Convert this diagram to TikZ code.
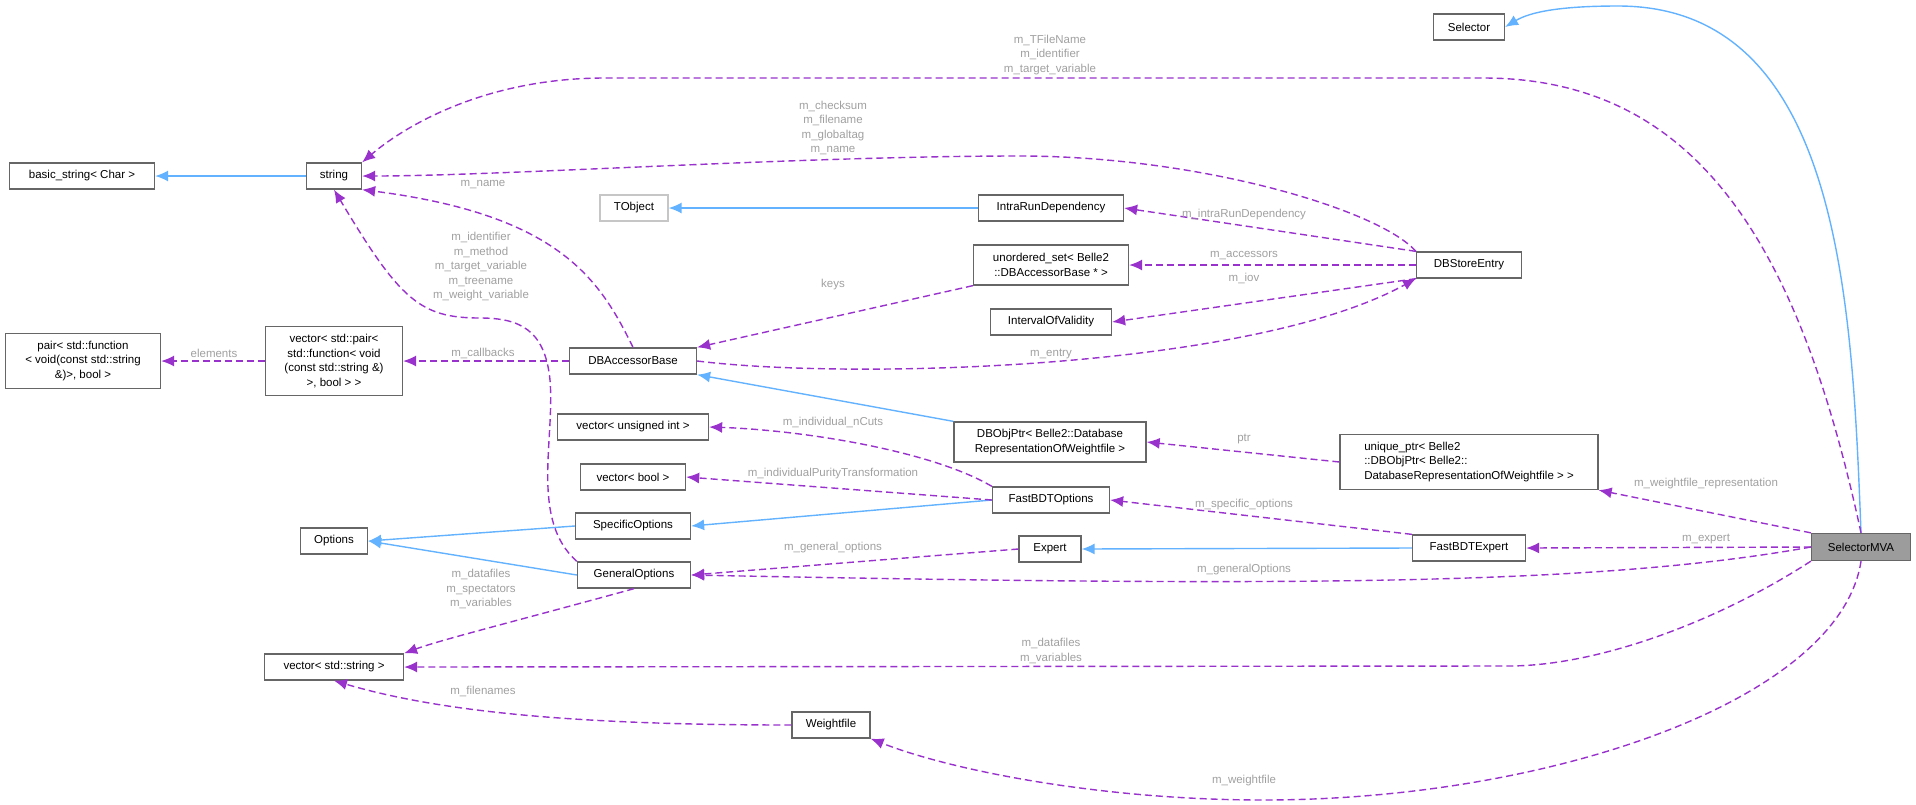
\documentclass[tikz,border=0pt]{standalone}
\usepackage{fontspec}
\setmainfont{Liberation Sans}
\usetikzlibrary{arrows.meta,positioning}
\definecolor{inhblue}{RGB}{99,178,255}
\definecolor{mempurple}{RGB}{153,50,204}
\definecolor{lblgray}{RGB}{160,160,160}
\definecolor{boxgray}{RGB}{102,102,102}
\tikzset{
  cls/.style={draw=boxgray,line width=1.3pt,align=center,inner sep=2pt,minimum height=26,font=\fontsize{11.5}{14.5}\selectfont},
  inh/.style={draw=inhblue,line width=1.4pt,-{Latex[length=13pt,width=11pt]}},
  mem/.style={draw=mempurple,line width=1.4pt,dash pattern=on 7pt off 4pt,-{Latex[length=13pt,width=11pt]}},
  lbl/.style={text=lblgray,align=center,inner sep=0pt,font=\fontsize{11.5}{14.5}\selectfont}
}
\begin{document}
\begin{tikzpicture}[x=1pt,y=-1pt]
\useasboundingbox (0,0) rectangle (1916,804);
% classes
\node[cls,minimum width=71] (sel) at (1469,27) {Selector};
\node[cls,minimum width=99,minimum height=27,fill=boxgray!65] (mva) at (1861,547) {SelectorMVA};
\node[cls,minimum width=145] (bstr) at (82,176) {basic\_string< Char >};
\node[cls,minimum width=55] (str) at (334,176) {string};
\node[cls,draw=lblgray!60,minimum width=68] (tobj) at (634,208) {TObject};
\node[cls,minimum width=145] (intra) at (1051,208) {IntraRunDependency};
\node[cls,minimum width=155,minimum height=40] (unord) at (1051,265) {unordered\_set< Belle2\\::DBAccessorBase * >};
\node[cls,minimum width=105] (dbs) at (1469,265) {DBStoreEntry};
\node[cls,minimum width=121] (iov) at (1051,322) {IntervalOfValidity};
\node[cls,minimum width=155,minimum height=55] (pair) at (83,361) {pair< std::function\\< void(const std::string\\ \&)>, bool >};
\node[cls,minimum width=137,minimum height=69] (vpair) at (334,361) {vector< std::pair<\\std::function< void\\(const std::string \&)\\>, bool > >};
\node[cls,minimum width=127] (dbacc) at (633,361) {DBAccessorBase};
\node[cls,minimum width=151] (vui) at (633,427) {vector< unsigned int >};
\node[cls,minimum width=192,minimum height=40] (dbobj) at (1050,442) {DBObjPtr< Belle2::Database\\RepresentationOfWeightfile >};
\node[cls,minimum width=258,minimum height=55,align=left] (uniq) at (1469,462) {unique\_ptr< Belle2\\::DBObjPtr< Belle2::\\DatabaseRepresentationOfWeightfile > >};
\node[cls,minimum width=105] (vbool) at (633,477) {vector< bool >};
\node[cls,minimum width=117] (fopt) at (1051,500) {FastBDTOptions};
\node[cls,minimum width=115] (sopt) at (633,526) {SpecificOptions};
\node[cls,minimum width=67] (opts) at (334,541) {Options};
\node[cls,minimum width=62] (expert) at (1050,549) {Expert};
\node[cls,minimum width=113] (fexp) at (1469,548) {FastBDTExpert};
\node[cls,minimum width=113] (gopt) at (634,575) {GeneralOptions};
\node[cls,minimum width=139] (vstr) at (334,667) {vector< std::string >};
\node[cls,minimum width=78] (wf) at (831,725) {Weightfile};
% inheritance
\draw[inh] (mva.north) .. controls (1852,300) and (1840,6) .. (1618,6) .. controls (1560,6) and (1530,12) .. (sel.east);
\draw[inh] (str.west) -- (bstr.east);
\draw[inh] (intra.west) -- (tobj.east);
\draw[inh] (dbobj.north west) -- (dbacc.south east);
\draw[inh] (fopt.west) -- (sopt.east);
\draw[inh] (sopt.west) -- (opts.east);
\draw[inh] (gopt.west) -- (opts.east);
\draw[inh] (fexp.west) -- (expert.east);
% members
\draw[mem] (mva.north) .. controls (1800,250) and (1700,78) .. (1483,78) -- (605,78) .. controls (480,78) and (400,130) .. (str.north east);
\draw[mem] (dbs.north west) .. controls (1380,210) and (1200,156) .. (1019,156) .. controls (800,156) and (500,176) .. (str.east);
\draw[mem] (dbacc.north) .. controls (600,280) and (560,215) .. (str.south east);
\draw[mem] (gopt.north west) .. controls (530,520) and (555,440) .. (550,380) .. controls (545,330) and (520,318) .. (480,318) .. controls (420,318) and (400,300) .. (str.south);
\draw[mem] (dbs.north west) -- (intra.east);
\draw[mem] (dbs.west) -- (unord.east);
\draw[mem] (dbs.south west) -- (iov.east);
\draw[mem] (unord.south west) -- (dbacc.north east);
\draw[mem] (dbacc.east) .. controls (850,380) and (1250,370) .. (dbs.south west);
\draw[mem] (dbacc.west) -- (vpair.east);
\draw[mem] (vpair.west) -- (pair.east);
\draw[mem] (uniq.west) -- (dbobj.east);
\draw[mem] (mva.north west) -- (uniq.south east);
\draw[mem] (fopt.north west) .. controls (930,450) and (800,430) .. (vui.east);
\draw[mem] (fopt.west) -- (vbool.east);
\draw[mem] (fexp.north west) -- (fopt.east);
\draw[mem] (expert.west) -- (gopt.east);
\draw[mem] (mva.west) -- (fexp.east);
\draw[mem] (mva.west) .. controls (1600,585) and (1300,587) .. (gopt.east);
\draw[mem] (gopt.south) .. controls (520,620) and (440,640) .. (vstr.north east);
\draw[mem] (mva.south west) .. controls (1720,620) and (1600,666) .. (1508,666) -- (vstr.east);
\draw[mem] (wf.west) .. controls (600,725) and (450,715) .. (vstr.south);
\draw[mem] (mva.south) .. controls (1840,700) and (1550,800) .. (1263,800) .. controls (1100,800) and (950,770) .. (wf.south east);
% labels
\node[lbl] (l_tfile) at (1050,55) {m\_TFileName\\m\_identifier\\m\_target\_variable};
\node[lbl] (l_check) at (833,128) {m\_checksum\\m\_filename\\m\_globaltag\\m\_name};
\node[lbl] (l_name) at (483,185) {m\_name};
\node[lbl] (l_ident) at (481,267) {m\_identifier\\m\_method\\m\_target\_variable\\m\_treename\\m\_weight\_variable};
\node[lbl] (l_intra) at (1244,215) {m\_intraRunDependency};
\node[lbl] (l_acc) at (1244,256) {m\_accessors};
\node[lbl] (l_iov) at (1244,278) {m\_iov};
\node[lbl] (l_keys) at (833,285) {keys};
\node[lbl] (l_entry) at (1051,354) {m\_entry};
\node[lbl] (l_cb) at (483,353) {m\_callbacks};
\node[lbl] (l_el) at (214,353) {elements};
\node[lbl] (l_ptr) at (1244,439) {ptr};
\node[lbl] (l_wrep) at (1706,484) {m\_weightfile\_representation};
\node[lbl] (l_ncut) at (833,422) {m\_individual\_nCuts};
\node[lbl] (l_pur) at (833,474) {m\_individualPurityTransformation};
\node[lbl] (l_spec) at (1244,505) {m\_specific\_options};
\node[lbl] (l_gen) at (833,548) {m\_general\_options};
\node[lbl] (l_exp) at (1706,539) {m\_expert};
\node[lbl] (l_genO) at (1244,570) {m\_generalOptions};
\node[lbl] (l_dsv) at (481,589) {m\_datafiles\\m\_spectators\\m\_variables};
\node[lbl] (l_dv) at (1051,651) {m\_datafiles\\m\_variables};
\node[lbl] (l_fn) at (483,691) {m\_filenames};
\node[lbl] (l_wf) at (1244,781) {m\_weightfile};
\end{tikzpicture}
\end{document}
